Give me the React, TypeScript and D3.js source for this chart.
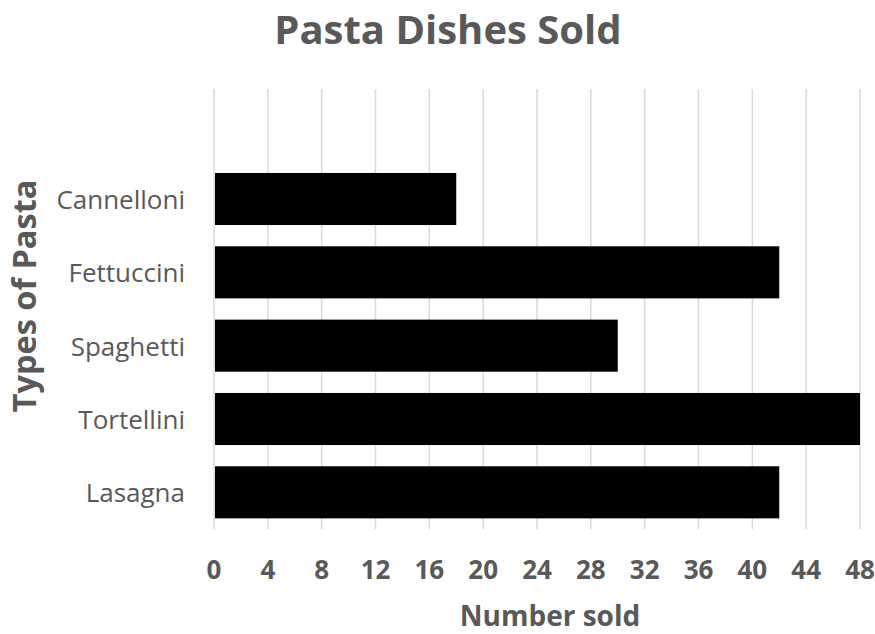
import React from "react";
import * as d3 from "d3";

const categories = ["", "Cannelloni", "Fettuccini", "Spaghetti", "Tortellini", "Lasagna"];
const values = [null, 18, 42, 30, 48, 42];
const xTicks = [0, 4, 8, 12, 16, 20, 24, 28, 32, 36, 40, 44, 48];

const W = 875, H = 634;
const left = 214, right = 860, top = 89, bottom = 529;
const gray = "#595959";
const font = "'Open Sans', sans-serif";

export default function App() {
  const x = d3.scaleLinear().domain([0, 48]).range([left, right]);
  const y = d3.scaleBand<string>().domain(categories.map((c, i) => String(i))).range([top, bottom]).paddingInner(0.29).paddingOuter(0.145);
  const step = (bottom - top) / categories.length;
  return (
    <svg width={W} height={H} style={{ position: "absolute", left: 0, top: 0, background: "#fff" }}>
      <text x={448} y={44} textAnchor="middle" fontFamily={font} fontWeight="bold" fontSize={40} fill={gray}>Pasta Dishes Sold</text>
      {xTicks.map((t) => (
        <line key={t} x1={x(t)} x2={x(t)} y1={top} y2={bottom} stroke="#d9d9d9" strokeWidth={1.5} />
      ))}
      {categories.map((c, i) => {
        const v = values[i];
        const cy = top + step * (i + 0.5);
        return (
          <g key={i}>
            {v != null && (
              <rect x={x(0) + 1} y={y(String(i))!} width={x(v) - x(0) - 1} height={y.bandwidth()} fill="#000" />
            )}
            <text x={185} y={cy + 10} textAnchor="end" fontFamily={font} fontSize={26} fill={gray}>{c}</text>
          </g>
        );
      })}
      {xTicks.map((t) => (
        <text key={t} x={x(t)} y={579} textAnchor="middle" fontFamily={font} fontWeight="bold" fontSize={26} fill={gray}>{t}</text>
      ))}
      <text x={550} y={626} textAnchor="middle" fontFamily={font} fontWeight="bold" fontSize={28} fill={gray}>Number sold</text>
      <text transform={`translate(36,296) rotate(-90)`} textAnchor="middle" fontFamily={font} fontWeight="bold" fontSize={32.5} fill={gray}>Types of Pasta</text>
    </svg>
  );
}
